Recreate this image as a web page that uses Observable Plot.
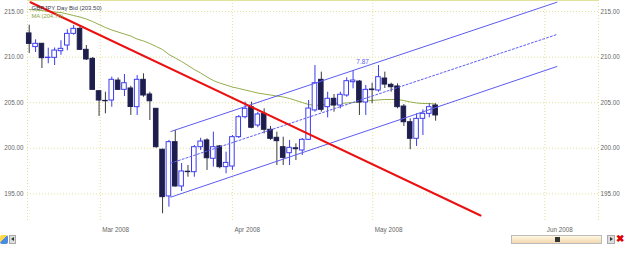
<!DOCTYPE html>
<html><head><meta charset="utf-8">
<script src="https://cdn.jsdelivr.net/npm/d3@7"></script>
<script src="https://cdn.jsdelivr.net/npm/@observablehq/plot@0.6"></script>
<style>
body{margin:0;background:#fff;}
#wrap{position:relative;width:625px;height:256px;overflow:hidden;background:#fff;font-family:"Liberation Sans",Arial,sans-serif;}
#chart{position:absolute;left:0;top:0;}
.ui{position:absolute;box-sizing:border-box;}
</style></head><body>
<div id="wrap"><div id="chart"></div>
<div class="ui" style="left:0;top:235px;width:8px;height:9px;background:linear-gradient(135deg,#ffd84a 0 45%,#4a8ae0 45% 100%);border-radius:2px;"></div>
<div class="ui" style="left:9px;top:235px;width:7px;height:9px;background:#ddd;border:1px solid #aaa;"></div>
<div class="ui" style="left:11px;top:237px;width:0;height:0;border-top:2.5px solid transparent;border-bottom:2.5px solid transparent;border-right:3px solid #333;"></div>
<div class="ui" style="left:511px;top:235px;width:91px;height:9px;background:linear-gradient(#fff6e0,#f3d9b0);border:1px solid #bbb;"></div>
<div class="ui" style="left:555px;top:237px;width:5px;height:5px;background:#333;"></div>
<div class="ui" style="left:607px;top:235px;width:8px;height:9px;background:#ddd;border:1px solid #aaa;"></div>
<div class="ui" style="left:610px;top:237px;width:0;height:0;border-top:2.5px solid transparent;border-bottom:2.5px solid transparent;border-left:3px solid #333;"></div>
<div class="ui" style="left:616px;top:234px;width:9px;height:10px;color:#d00;font:bold 10px/10px 'Liberation Sans',Arial;">&#x2716;</div>
</div>
<script>
// ---- data (x = trading-day index) ----
const opens  = [212.6,211.1,211.46,209.9,209.92,210.65,211.27,212.55,213.1,210.8,209.81,206.26,205.2,205.24,207.43,206.41,206.56,204.51,207.51,205.9,204.33,199.84,194.72,200.67,195.81,197.43,197.38,200.12,200.86,198.85,200.2,197.93,198.0,201.22,203.41,204.51,202.5,203.78,202.03,201.15,200.12,199.46,200.0,199.76,200.93,204.15,207.51,204.51,205.43,204.69,205.79,207.25,207.32,205.02,206.45,206.34,207.65,206.96,206.78,204.58,202.86,201.04,203.23,203.78,204.69];
const highs  = [213.5,211.9,211.5,210.98,211.0,211.8,213.0,213.46,213.46,211.27,209.96,206.3,206.15,207.8,207.7,208.09,206.8,207.98,208.17,206.15,204.36,199.9,200.86,201.95,198.33,198.11,200.31,201.1,201.04,201.77,200.31,199.57,201.4,203.6,205.06,205.06,203.96,204.33,202.4,201.77,201.22,200.86,200.49,201.07,205.24,209.08,208.35,206.15,205.9,206.15,207.73,208.53,207.43,206.89,207.14,209.08,208.35,207.14,207.07,204.8,203.23,203.78,204.22,204.88,204.88];
const lows   = [210.4,210.5,208.75,209.27,209.08,210.2,210.7,212.4,210.72,209.63,206.34,203.49,203.78,204.5,206.34,205.68,203.6,203.6,205.6,203.05,200.01,192.82,193.54,195.74,195.26,196.83,196.83,199.76,197.57,197.93,197.75,197.2,197.57,201.07,203.23,202.14,202.25,201.59,200.86,198.11,198.11,198.11,198.66,199.21,200.86,203.96,203.96,203.34,203.96,204.33,205.6,206.52,203.6,203.6,204.88,206.15,206.56,206.15,204.33,202.39,199.84,200.2,201.4,203.34,202.97];
const closes = [211.45,211.46,209.88,209.94,210.72,210.91,212.55,213.1,210.8,209.74,206.41,205.24,205.16,207.51,206.41,207.14,204.53,207.51,205.79,205.16,200.12,194.64,200.67,195.81,197.46,197.38,200.12,200.74,198.91,200.12,197.93,198.4,201.22,203.41,204.33,202.25,203.71,202.03,201.04,200.78,198.95,200.05,199.9,200.93,204.36,207.14,204.22,205.43,204.69,205.87,207.36,207.43,205.02,206.41,206.38,207.8,206.99,206.7,204.51,202.86,201.04,203.23,203.78,204.51,203.6];
const maValues = [215.22,215.16,215.11,215.0,214.95,214.89,214.73,214.56,214.4,214.18,213.9,213.57,213.25,212.97,212.75,212.53,212.31,211.98,211.77,211.49,211.16,210.83,210.29,209.9,209.52,209.08,208.64,208.26,207.82,207.43,207.16,206.94,206.72,206.56,206.39,206.23,206.06,205.95,205.84,205.73,205.63,205.46,205.24,205.02,204.8,204.69,204.75,204.8,204.86,204.91,204.97,205.02,205.08,205.19,205.24,205.3,205.35,205.35,205.35,205.24,205.08,204.97,204.91,204.91,204.86];
const yTicks = [195, 200, 205, 210, 215];
const monthTickPos = [11.2, 32.0, 54.1, 81.2];
const monthLabels = ["Mar 2008", "Apr 2008", "May 2008", "Jun 2008"];
const redLineIdx = [0.2, 71.07];
const redLineVal = [216.02, 192.63];
const channelIdx = [22.3, 83.1];
const channelUpper = [201.84, 216.02];
const channelMiddle = [198.37, 212.48];
const channelLower = [194.64, 208.97];
const channelLabel = {idx: 52.5, val: 209.45, text: "7.87"};
const titleText = "GBPJPY Day Bid (203.50)";
const maText = "MA (204.76)";

// ---- build ----
const xDomain = [-0.27, 89.65];
const yDomain = [191.86, 216.21];
const BLUE = "#3c3cf0", NAVY = "#1e1e4e", CH = "#5c5cf2", GRID = "#e2e29a";
const candles = opens.map((o, i) => ({i, o, h: highs[i], l: lows[i], c: closes[i], up: closes[i] >= o}));
const ma = maValues.map((v, i) => ({i, v}));
const toPts = (xs, ys) => xs.map((x, k) => ({x, y: ys[k]}));

const chart = Plot.plot({
  width: 625, height: 256,
  marginLeft: 27, marginRight: 27, marginTop: 0, marginBottom: 34,
  x: {domain: xDomain, axis: null},
  y: {domain: yDomain, axis: null},
  color: {type: "identity"},
  style: {fontSize: "6.3px", fontFamily: "'Liberation Sans', Arial, sans-serif", background: "transparent", color: "#666"},
  marks: [
    Plot.ruleY([yDomain[1]], {stroke: GRID}),
    Plot.gridY(yTicks, {stroke: GRID, strokeOpacity: 1, strokeDasharray: "1,2"}),
    Plot.gridX([xDomain[0], ...monthTickPos, xDomain[1]], {stroke: GRID, strokeOpacity: 1, strokeDasharray: "1,2"}),
    Plot.line(ma, {x: "i", y: "v", stroke: "#94ad4c", strokeWidth: 1}),
    Plot.ruleX(candles, {x: "i", y1: "l", y2: "h", stroke: d => d.up ? BLUE : "#3a3a3a", strokeWidth: 1}),
    Plot.rect(candles, {x1: d => d.i - 0.36, x2: d => d.i + 0.36, y1: d => Math.min(d.o, d.c), y2: d => Math.max(d.o, d.c), fill: d => d.up ? "#fff" : NAVY, stroke: d => d.up ? BLUE : NAVY, strokeWidth: 1}),
    Plot.line(toPts(channelIdx, channelUpper), {x: "x", y: "y", stroke: CH, strokeWidth: 1}),
    Plot.line(toPts(channelIdx, channelLower), {x: "x", y: "y", stroke: CH, strokeWidth: 1}),
    Plot.line(toPts(channelIdx, channelMiddle), {x: "x", y: "y", stroke: CH, strokeWidth: 1, strokeDasharray: "2,2"}),
    Plot.text([channelLabel], {x: "idx", y: "val", text: "text", fill: CH, fontSize: 6.5, textAnchor: "middle"}),
    Plot.line(toPts(redLineIdx, redLineVal), {x: "x", y: "y", stroke: "#ec1010", strokeWidth: 2}),
    Plot.text([titleText], {frameAnchor: "top-left", dx: 4, dy: 5, fill: "#3a3a4a", fontSize: 6, textAnchor: "start"}),
    Plot.text([maText], {frameAnchor: "top-left", dx: 4, dy: 13.5, fill: "#8aa043", fontSize: 5.8, textAnchor: "start"}),
    Plot.axisY(yTicks, {anchor: "left", tickSize: 0, tickPadding: 4, tickFormat: d => d.toFixed(2), label: null, fill: "#666"}),
    Plot.axisY(yTicks, {anchor: "right", tickSize: 0, tickPadding: 2, tickFormat: d => d.toFixed(2), label: null, fill: "#666"}),
    Plot.text(monthTickPos, {x: d => d, text: (d, k) => monthLabels[k], frameAnchor: "bottom", dy: 9, dx: 2, textAnchor: "start", fill: "#666"})
  ]
});
document.getElementById("chart").appendChild(chart);
</script>
</body></html>
